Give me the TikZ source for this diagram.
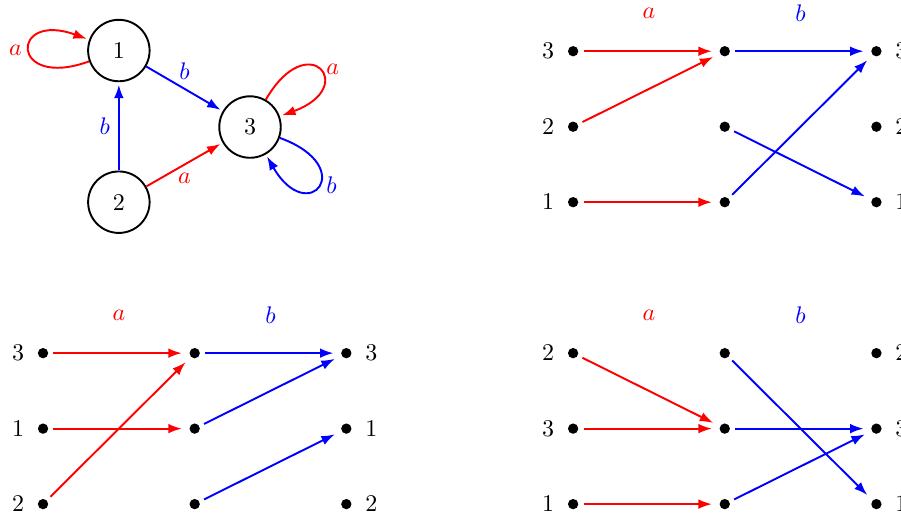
\documentclass[tikz,border=0pt]{standalone}
\usetikzlibrary{arrows.meta}

\tikzset{
  sommet/.style={circle,draw,thick,minimum size=0.9cm,inner sep=0pt},
  pastille/.style={circle,fill,inner sep=0pt,minimum size=4.3pt,outer sep=2.2pt,label distance=-3.4pt},
  boucle/.style={looseness=10,min distance=5mm},
  fr/.style={thick,red,-{Latex[length=5.6pt,width=4pt]},shorten >=1pt},
  fb/.style={thick,blue,-{Latex[length=5.6pt,width=4pt]},shorten >=1pt}
}

\begin{document}
\begin{tikzpicture}
\useasboundingbox (0,0) rectangle (13.19,7.6);

% Graphe de l'automate
\node[sommet] (g1) at (1.74,6.86) {1};
\node[sommet] (g2) at (1.74,4.64) {2};
\node[sommet] (g3) at (3.66,5.74) {3};

\draw[fr] (g1) to[out=200,in=160,boucle] node[left=-0.5pt] {$a$} (g1);
\draw[fb] (g1) -- node[above] {$b$} (g3);
\draw[fb] (g2) -- node[left] {$b$} (g1);
\draw[fr] (g2) -- node[below] {$a$} (g3);
\draw[fr] (g3) to[out=60,in=20,boucle] node[right=-0.5pt] {$a$} (g3);
\draw[fb] (g3) to[out=-20,in=-60,boucle] node[right=-0.5pt] {$b$} (g3);

% Diagramme en haut a droite
\begin{scope}[shift={(8.39,4.64)}]
\node[red] (Aa) at (1.11,2.77) {$a$};
\node[blue] (Ab) at (3.33,2.77) {$b$};
\node[pastille,label=left:$3$] (Agh) at (0,2.21) {};
\node[pastille,label=left:$2$] (Agc) at (0,1.105) {};
\node[pastille,label=left:$1$] (Agb) at (0,0) {};
\node[pastille] (Amh) at (2.22,2.21) {};
\node[pastille] (Amc) at (2.22,1.105) {};
\node[pastille] (Amb) at (2.22,0) {};
\node[pastille,label=right:$3$] (Adh) at (4.44,2.21) {};
\node[pastille,label=right:$2$] (Adc) at (4.44,1.105) {};
\node[pastille,label=right:$1$] (Adb) at (4.44,0) {};
\draw[fr] (Agh) -- (Amh);
\draw[fr] (Agc) -- (Amh);
\draw[fr] (Agb) -- (Amb);
\draw[fb] (Amh) -- (Adh);
\draw[fb] (Amc) -- (Adb);
\draw[fb] (Amb) -- (Adh);
\end{scope}

% Diagramme en bas a gauche
\begin{scope}[shift={(0.63,0.22)}]
\node[red] (Ba) at (1.11,2.77) {$a$};
\node[blue] (Bb) at (3.33,2.77) {$b$};
\node[pastille,label=left:$3$] (Bgh) at (0,2.21) {};
\node[pastille,label=left:$1$] (Bgc) at (0,1.105) {};
\node[pastille,label=left:$2$] (Bgb) at (0,0) {};
\node[pastille] (Bmh) at (2.22,2.21) {};
\node[pastille] (Bmc) at (2.22,1.105) {};
\node[pastille] (Bmb) at (2.22,0) {};
\node[pastille,label=right:$3$] (Bdh) at (4.44,2.21) {};
\node[pastille,label=right:$1$] (Bdc) at (4.44,1.105) {};
\node[pastille,label=right:$2$] (Bdb) at (4.44,0) {};
\draw[fr] (Bgh) -- (Bmh);
\draw[fr] (Bgc) -- (Bmc);
\draw[fr] (Bgb) -- (Bmh);
\draw[fb] (Bmh) -- (Bdh);
\draw[fb] (Bmc) -- (Bdh);
\draw[fb] (Bmb) -- (Bdc);
\end{scope}

% Diagramme en bas a droite
\begin{scope}[shift={(8.39,0.22)}]
\node[red] (Ca) at (1.11,2.77) {$a$};
\node[blue] (Cb) at (3.33,2.77) {$b$};
\node[pastille,label=left:$2$] (Cgh) at (0,2.21) {};
\node[pastille,label=left:$3$] (Cgc) at (0,1.105) {};
\node[pastille,label=left:$1$] (Cgb) at (0,0) {};
\node[pastille] (Cmh) at (2.22,2.21) {};
\node[pastille] (Cmc) at (2.22,1.105) {};
\node[pastille] (Cmb) at (2.22,0) {};
\node[pastille,label=right:$2$] (Cdh) at (4.44,2.21) {};
\node[pastille,label=right:$3$] (Cdc) at (4.44,1.105) {};
\node[pastille,label=right:$1$] (Cdb) at (4.44,0) {};
\draw[fr] (Cgh) -- (Cmc);
\draw[fr] (Cgc) -- (Cmc);
\draw[fr] (Cgb) -- (Cmb);
\draw[fb] (Cmh) -- (Cdb);
\draw[fb] (Cmc) -- (Cdc);
\draw[fb] (Cmb) -- (Cdc);
\end{scope}

\end{tikzpicture}
\end{document}
